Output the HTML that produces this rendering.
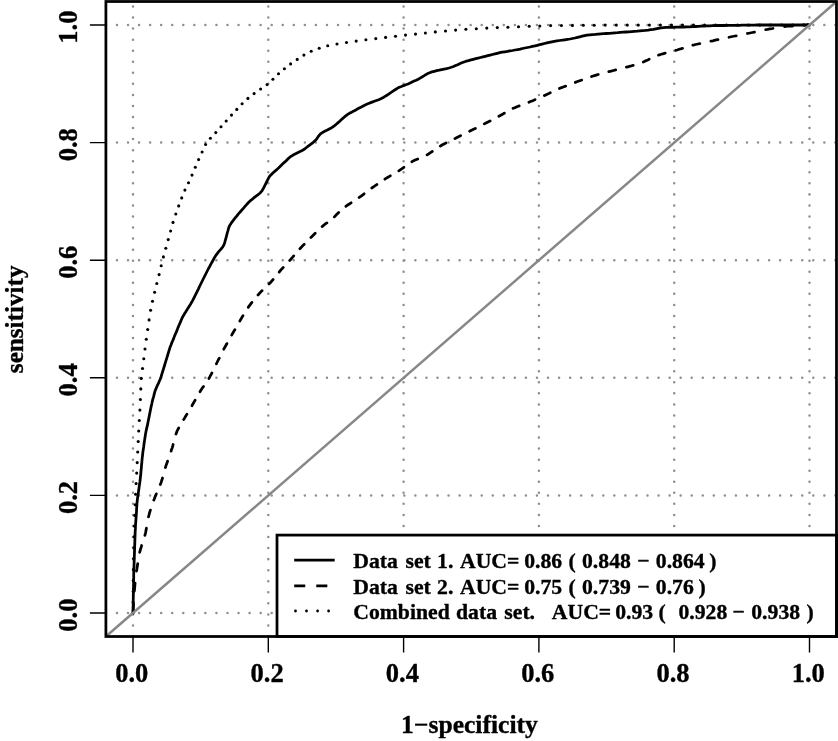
<!DOCTYPE html>
<html lang="en"><head><meta charset="utf-8"><title>ROC curves</title>
<style>html,body{margin:0;padding:0;background:#fff}svg{display:block}</style></head>
<body>
<svg width="838" height="741" viewBox="0 0 838 741">
<rect width="838" height="741" fill="#fff"/>
<path d="M133 636.5V1.5M268.3 636.5V1.5M403.6 636.5V1.5M538.9 636.5V1.5M674.2 636.5V1.5M809.5 636.5V1.5M105.9 613H836.6M105.9 495.4H836.6M105.9 377.8H836.6M105.9 260.2H836.6M105.9 142.6H836.6M105.9 25H836.6" fill="none" stroke="#8f8f8f" stroke-width="2.5" stroke-linecap="round" stroke-dasharray="0.01 11.043"/>
<path d="M133 613 L133.1 610.1 L133.1 607.1 L133.2 604.2 L133.2 601.2 L133.3 598.3 L133.3 595.3 L133.4 592.4 L133.4 589.4 L133.5 586.5 L133.6 583.6 L133.6 580.6 L133.7 577.7 L133.7 574.7 L133.8 571.8 L133.9 568.9 L134 566 L134.1 563.1 L134.2 560.2 L134.3 557.3 L134.4 554.4 L134.5 551.5 L134.6 548.6 L134.7 545.7 L134.8 542.8 L134.9 539.9 L135 537 L135.1 534.1 L135.2 531.2 L135.4 528.4 L135.5 525.5 L135.7 522.7 L135.9 519.9 L136.1 517.1 L136.3 514.3 L136.5 511.5 L136.6 508.6 L136.8 505.8 L137 503 L137.3 500.3 L137.6 497.6 L138 495 L138.4 492.4 L138.8 489.8 L139.1 487.1 L139.5 484.5 L139.9 481.9 L140.2 479.2 L140.5 476.5 L140.8 473.8 L141 471 L141.3 468.3 L141.5 465.5 L141.8 462.8 L142 460 L142.3 457.3 L142.6 454.6 L142.9 451.9 L143.3 449.3 L143.7 446.7 L144 444 L144.4 441.4 L144.8 438.8 L145.2 436.2 L145.6 433.6 L146.1 431.1 L146.6 428.6 L147.2 426.2 L147.7 423.7 L148.2 421.2 L148.7 418.7 L149.2 416.2 L149.7 413.7 L150.2 411.2 L150.7 408.7 L151.2 406.2 L151.8 403.8 L152.3 401.3 L152.9 398.9 L153.6 396.6 L154.2 394.2 L154.8 391.8 L155.6 389.6 L156.5 387.5 L157.4 385.4 L158.4 383.4 L159.3 381.3 L160.2 379.2 L161 377 L161.7 374.7 L162.4 372.4 L163.1 370.1 L163.8 367.8 L164.5 365.5 L165.2 363.2 L165.9 360.9 L166.6 358.6 L167.3 356.3 L168 354 L168.7 351.7 L169.4 349.4 L170.1 347.1 L171 345 L171.8 342.8 L172.7 340.7 L173.6 338.6 L174.4 336.4 L175.3 334.3 L176.2 332.2 L177.1 330.1 L177.9 327.9 L178.8 325.8 L179.7 323.7 L180.6 321.6 L181.5 319.5 L182.4 317.4 L183.5 315.5 L184.6 313.6 L185.8 311.8 L186.9 309.9 L188.1 308.1 L189.2 306.2 L190.4 304.4 L191.5 302.5 L192.6 300.6 L193.6 298.6 L194.6 296.6 L195.6 294.6 L196.6 292.6 L197.6 290.6 L198.6 288.6 L199.5 286.5 L200.5 284.5 L201.5 282.5 L202.5 280.5 L203.5 278.5 L204.5 276.5 L205.5 274.5 L206.5 272.5 L207.5 270.5 L208.5 268.5 L209.6 266.6 L210.6 264.6 L211.7 262.7 L212.8 260.8 L213.8 258.8 L214.9 256.9 L216.1 255.1 L217.4 253.4 L218.7 251.7 L220.1 250.1 L221.5 248.5 L222.8 246.8 L223.9 244.9 L224.7 242.7 L225.3 240.3 L226 238 L226.6 235.6 L227.2 233.2 L227.9 230.9 L228.5 228.5 L229.3 226.3 L230.4 224.4 L231.6 222.6 L232.9 220.9 L234.2 219.2 L235.5 217.5 L236.9 215.9 L238.2 214.2 L239.6 212.6 L241 211 L242.4 209.4 L243.8 207.8 L245.2 206.2 L246.6 204.6 L248 203 L249.5 201.5 L251.1 200.1 L252.8 198.8 L254.4 197.4 L256.1 196.1 L257.8 194.8 L259.5 193.5 L261 192 L262.3 190.3 L263.4 188.4 L264.4 186.4 L265.4 184.4 L266.4 182.4 L267.4 180.4 L268.4 178.4 L269.5 176.5 L270.9 174.9 L272.4 173.4 L274 172 L275.6 170.6 L277.2 169.2 L278.8 167.8 L280.3 166.3 L281.8 164.8 L283.3 163.3 L284.9 161.9 L286.4 160.4 L287.9 158.9 L289.5 157.5 L291.2 156.2 L293.1 155.1 L295.1 154.1 L297.1 153.1 L299.1 152.1 L301.1 151.1 L303 150 L304.8 148.8 L306.5 147.5 L308.2 146.2 L309.9 144.9 L311.6 143.6 L313.3 142.3 L314.9 140.9 L316.3 139.3 L317.6 137.6 L318.8 135.8 L320.2 134.2 L321.9 132.9 L323.8 131.8 L325.8 130.8 L327.8 129.8 L329.7 128.7 L331.7 127.7 L333.5 126.5 L335.2 125.2 L336.8 123.8 L338.4 122.4 L340 121 L341.5 119.5 L343.1 118.1 L344.7 116.7 L346.4 115.4 L348.1 114.1 L350 113 L352 112 L353.9 110.9 L355.9 109.9 L357.8 108.8 L359.8 107.8 L361.8 106.8 L363.7 105.7 L365.7 104.7 L367.8 103.8 L369.9 102.9 L372.1 102.1 L374.3 101.3 L376.5 100.5 L378.7 99.7 L380.8 98.8 L382.8 97.8 L384.6 96.6 L386.5 95.5 L388.3 94.3 L390.1 93.1 L391.9 91.9 L393.7 90.7 L395.5 89.5 L397.3 88.3 L399.3 87.3 L401.5 86.5 L403.6 85.6 L405.8 84.8 L408 84 L410.1 83.1 L412.1 82.1 L414.1 81.1 L416.2 80.2 L418.2 79.2 L420.1 78.1 L422 77 L423.9 75.9 L425.7 74.7 L427.6 73.6 L429.7 72.7 L431.9 71.9 L434.3 71.3 L436.7 70.7 L439.2 70.2 L441.6 69.6 L444.1 69.1 L446.6 68.6 L449 68 L451.3 67.3 L453.5 66.5 L455.6 65.6 L457.7 64.7 L459.7 63.7 L461.8 62.8 L464 62 L466.2 61.2 L468.6 60.6 L470.9 59.9 L473.3 59.3 L475.7 58.7 L478.1 58.1 L480.5 57.5 L482.9 56.9 L485.3 56.3 L487.7 55.7 L490.1 55.1 L492.5 54.5 L494.9 53.9 L497.3 53.3 L499.7 52.7 L502.2 52.2 L504.8 51.8 L507.4 51.4 L509.9 50.9 L512.5 50.5 L515 50 L517.6 49.6 L520.1 49.1 L522.5 48.5 L525 48 L527.5 47.5 L530 47 L532.4 46.4 L534.9 45.9 L537.3 45.3 L539.7 44.7 L542.1 44.1 L544.5 43.5 L546.9 42.9 L549.3 42.3 L551.8 41.8 L554.3 41.3 L556.9 40.9 L559.5 40.5 L562.2 40.2 L564.8 39.8 L567.4 39.4 L570 39 L572.5 38.5 L575 38 L577.4 37.4 L579.8 36.8 L582.2 36.2 L584.6 35.6 L587.1 35.1 L589.8 34.8 L592.6 34.6 L595.4 34.4 L598.1 34.1 L600.9 33.9 L603.7 33.7 L606.5 33.5 L609.3 33.3 L612.1 33.1 L614.9 32.9 L617.7 32.7 L620.4 32.4 L623.2 32.2 L626 32 L628.8 31.8 L631.6 31.6 L634.4 31.4 L637.2 31.2 L639.9 30.9 L642.6 30.6 L645.4 30.4 L648.1 30.1 L650.7 29.7 L653.3 29.3 L655.8 28.8 L658.3 28.3 L660.9 27.9 L663.6 27.6 L666.4 27.4 L669.4 27.4 L672.3 27.3 L675.2 27.2 L678.2 27.2 L681.1 27.1 L684 27 L686.9 26.9 L689.8 26.8 L692.6 26.6 L695.5 26.5 L698.4 26.4 L701.2 26.2 L704.1 26.1 L706.9 25.9 L709.8 25.8 L712.7 25.7 L715.6 25.6 L718.5 25.5 L721.5 25.5 L724.5 25.5 L727.4 25.4 L730.4 25.4 L733.3 25.3 L736.3 25.3 L739.3 25.3 L742.2 25.2 L745.2 25.2 L748.2 25.2 L751.1 25.1 L754.1 25.1 L757 25 L760 25 L763 25 L766 25 L769 25 L772 25 L775 25 L778 25 L781 25 L784 25 L787 25 L790 25 L793 25 L796 25 L799 25 L802 25 L805 25 L807.7 24.7 L809.5 25" fill="none" stroke="#000" stroke-width="2.76" stroke-linejoin="round" stroke-linecap="round"/>
<path d="M133.1 611.9 L133.2 610.2 L133.3 607.3 L133.5 604.5 L133.5 603.7M134.4 591.1 L134.4 590.4 L134.7 587.7 L134.9 584.9 L135.1 583.1M136.5 571.1 L136.9 568.9 L137.3 566.3 L137.7 563.7 L137.7 563.7M139.7 552.3 L140 551 L140.7 548.7 L141.4 546.4 L141.6 545.5M144.9 535.4 L145 535 L145.6 532.6 L146.1 530.1 L146.4 528.2M148.5 516.9 L149 515 L149.6 512.6 L150.3 510.3 L150.4 510.1M153.8 500.1 L154.2 499.2 L155 497 L155.9 494.9 L156.3 493.9M160.3 484.5 L160.4 484.4 L161.2 482.2 L161.9 479.9 L162.5 478M165.4 467.5 L165.9 465.9 L166.7 463.7 L167.5 461.5 L167.6 461.1M171.1 451.1 L171.3 450.3 L172.1 448.1 L172.8 445.8 L173.1 444.5M176 434 L176.8 431.8 L177.7 429.7 L178.7 428M183.7 419.5 L184.4 418.4 L185.5 416.5 L186.6 414.6 L186.9 414.1M192 405.7 L192.2 405.2 L193.3 403.3 L194.4 401.4 L195.1 400.2M200 391.7 L201 390 L202.2 388.2 L203.5 386.5M208.9 378.5 L209.5 377.5 L210.5 375.5 L211.6 373.6 L211.9 372.9M216.4 363.9 L216.5 363.5 L217.5 361.5 L218.5 359.5 L219.3 358.1M223.8 349.2 L224.6 347.6 L225.7 345.7 L226.8 343.8 L226.9 343.6M231.7 335.1 L232.2 334.2 L233.3 332.3 L234.4 330.4 L234.9 329.6M239.8 321.1 L239.9 320.9 L241 319 L242.1 317.1 L243 315.6M248.2 307.3 L249.1 306.1 L250.4 304.4 L251.7 302.7 L251.9 302.4M258 295 L258.5 294.5 L259.9 292.9 L261.3 291.3 L262.1 290.6M269 284 L270.5 282.5 L271.9 280.9 L273.1 279.5M279.2 272.1 L280 271 L281.4 269.4 L282.8 267.8 L283.2 267.4M289.7 260.5 L290.1 260.1 L291.5 258.5 L292.9 256.9 L293.7 255.9M299.9 248.7 L301.3 247.3 L302.7 245.7 L304.2 244.3M310.9 237.5 L311.7 236.7 L313.2 235.2 L314.7 233.7 L315.2 233.2M322.1 226.6 L322.4 226.4 L324 225 L325.7 223.7 L326.9 222.9M334.4 216.9 L335.6 215.6 L337.1 214.1 L338.6 212.6 L338.7 212.5M345.9 206.3 L346.7 205.7 L348.5 204.5 L350.3 203.3 L351.1 202.8M359.1 197.5 L359.3 197.3 L361.1 196.1 L362.8 194.8 L364.1 193.8M371.8 188 L373.1 187.1 L374.9 185.9 L376.7 184.7 L376.9 184.5M384.9 179.1 L385.6 178.6 L387.5 177.5 L389.4 176.4 L390.3 175.8M398.8 170.9 L398.8 170.8 L400.6 169.6 L402.4 168.4 L403.9 167.3M411.8 161.7 L413.1 161.1 L415.1 160.1 L417.2 159.2 L417.7 159M427 154.9 L427.6 154.6 L429.4 153.4 L431.2 152.2 L432.3 151.5M440.3 146.1 L442 145 L444 144 L445.9 143M454.9 138.6 L456 138 L458 137 L460 136 L460.6 135.7M469.6 131.2 L470 131 L472 130 L474 129 L475.4 128.4M484.3 123.9 L486 123 L488 122 L490 121 L490.1 120.9M498.9 116.3 L499.8 115.8 L501.7 114.7 L503.6 113.6 L504.4 113.2M513 108.4 L513.3 108.3 L515.4 107.4 L517.5 106.5 L519.2 105.9M528.9 102.2 L530.5 101.5 L532.7 100.7 L534.8 99.8 L535 99.6M544.4 95.6 L545.2 95.2 L547.2 94.2 L549.3 93.3 L550.3 92.8M559.4 88.5 L559.5 88.5 L561.6 87.6 L563.8 86.8 L565.6 86.1M575.3 82.4 L576.8 81.8 L579 81 L581.2 80.2 L581.7 80.1M591.6 76.6 L592.3 76.3 L594.6 75.6 L596.9 74.9 L598.2 74.5M608.8 71.6 L611.1 71.1 L613.5 70.5 L615.7 69.9M626.4 67.2 L627.8 66.8 L630.2 66.2 L632.5 65.5 L633.2 65.3M643.3 62 L643.8 61.8 L645.8 60.8 L647.9 59.9 L649.2 59.2M658.5 55.1 L660.5 54.5 L662.8 53.8 L665.2 53.2 L665.2 53.2M675.8 50.3 L677 50 L679.3 49.3 L681.6 48.6 L682.5 48.3M692.8 45.2 L693.2 45.2 L695.5 44.5 L698 44 L699.8 43.6M710.9 41.2 L712.8 40.8 L715.2 40.2 L717.7 39.7 L718 39.6M729 37.3 L730 37 L732.5 36.5 L735 36 L736.2 35.8M747.4 33.5 L747.5 33.5 L750 33 L752.5 32.5 L754.5 32.1M765.7 29.7 L767.4 29.4 L769.9 28.9 L772.5 28.5 L773 28.4M784.6 26.6 L785.5 26.5 L788.2 26.2 L791 26 L792.6 26M805.2 25.1 L807.8 24.8 L809.5 25" fill="none" stroke="#000" stroke-width="2.76" stroke-linejoin="round" stroke-linecap="round"/>
<g fill="#000"><circle cx="133" cy="613" r="1.55"/><circle cx="133.1" cy="602.1" r="1.55"/><circle cx="133.3" cy="591.2" r="1.55"/><circle cx="133.4" cy="580.3" r="1.55"/><circle cx="133.5" cy="569.4" r="1.55"/><circle cx="133.7" cy="558.5" r="1.55"/><circle cx="133.9" cy="547.6" r="1.55"/><circle cx="134.1" cy="536.8" r="1.55"/><circle cx="134.4" cy="526" r="1.55"/><circle cx="134.8" cy="515.4" r="1.55"/><circle cx="135.2" cy="504.8" r="1.55"/><circle cx="135.6" cy="494.2" r="1.55"/><circle cx="136.1" cy="483.6" r="1.55"/><circle cx="136.7" cy="473.1" r="1.55"/><circle cx="137.2" cy="462.6" r="1.55"/><circle cx="137.7" cy="452" r="1.55"/><circle cx="138.2" cy="441.5" r="1.55"/><circle cx="138.7" cy="431" r="1.55"/><circle cx="139.3" cy="420.5" r="1.55"/><circle cx="139.9" cy="410.1" r="1.55"/><circle cx="140.4" cy="399.5" r="1.55"/><circle cx="140.8" cy="388.9" r="1.55"/><circle cx="141.3" cy="378.4" r="1.55"/><circle cx="142.5" cy="368.5" r="1.55"/><circle cx="143.8" cy="358.7" r="1.55"/><circle cx="145" cy="349" r="1.55"/><circle cx="146.3" cy="339.2" r="1.55"/><circle cx="147.7" cy="329.5" r="1.55"/><circle cx="149.1" cy="319.9" r="1.55"/><circle cx="150.6" cy="310.3" r="1.55"/><circle cx="152.5" cy="301.3" r="1.55"/><circle cx="154.6" cy="292.3" r="1.55"/><circle cx="156.8" cy="283.5" r="1.55"/><circle cx="159.1" cy="274.6" r="1.55"/><circle cx="161.2" cy="265.7" r="1.55"/><circle cx="163.4" cy="256.9" r="1.55"/><circle cx="165.8" cy="248.3" r="1.55"/><circle cx="168.2" cy="239.6" r="1.55"/><circle cx="170.6" cy="231" r="1.55"/><circle cx="173" cy="222.4" r="1.55"/><circle cx="175.8" cy="214" r="1.55"/><circle cx="178.7" cy="205.9" r="1.55"/><circle cx="181.7" cy="197.9" r="1.55"/><circle cx="184.9" cy="190.1" r="1.55"/><circle cx="188.5" cy="182.7" r="1.55"/><circle cx="192" cy="175.1" r="1.55"/><circle cx="195.3" cy="167.3" r="1.55"/><circle cx="198.6" cy="159.6" r="1.55"/><circle cx="202.1" cy="152" r="1.55"/><circle cx="205.6" cy="144.5" r="1.55"/><circle cx="210.4" cy="138.2" r="1.55"/><circle cx="215.8" cy="132.6" r="1.55"/><circle cx="221" cy="126.8" r="1.55"/><circle cx="226.2" cy="121" r="1.55"/><circle cx="231.5" cy="115.1" r="1.55"/><circle cx="236.8" cy="109.4" r="1.55"/><circle cx="242.1" cy="103.7" r="1.55"/><circle cx="247.9" cy="98.4" r="1.55"/><circle cx="254.1" cy="93.6" r="1.55"/><circle cx="260.6" cy="89" r="1.55"/><circle cx="267.1" cy="84.6" r="1.55"/><circle cx="272.9" cy="79.3" r="1.55"/><circle cx="278.5" cy="73.8" r="1.55"/><circle cx="284.4" cy="68.7" r="1.55"/><circle cx="290.6" cy="63.9" r="1.55"/><circle cx="297.2" cy="59.4" r="1.55"/><circle cx="303.9" cy="55.1" r="1.55"/><circle cx="311.2" cy="51.3" r="1.55"/><circle cx="319.2" cy="48.2" r="1.55"/><circle cx="327.7" cy="45.7" r="1.55"/><circle cx="337" cy="44" r="1.55"/><circle cx="346.5" cy="42.5" r="1.55"/><circle cx="356.2" cy="41.1" r="1.55"/><circle cx="365.9" cy="39.8" r="1.55"/><circle cx="375.8" cy="38.6" r="1.55"/><circle cx="385.6" cy="37.4" r="1.55"/><circle cx="395.5" cy="36.2" r="1.55"/><circle cx="405.5" cy="35.1" r="1.55"/><circle cx="415.5" cy="34.1" r="1.55"/><circle cx="425.4" cy="33" r="1.55"/><circle cx="435.3" cy="31.9" r="1.55"/><circle cx="445.5" cy="31" r="1.55"/><circle cx="455.6" cy="30.1" r="1.55"/><circle cx="465.9" cy="29.3" r="1.55"/><circle cx="476.3" cy="28.7" r="1.55"/><circle cx="486.8" cy="28.1" r="1.55"/><circle cx="497.3" cy="27.6" r="1.55"/><circle cx="507.9" cy="27.2" r="1.55"/><circle cx="518.5" cy="26.7" r="1.55"/><circle cx="529.2" cy="26.3" r="1.55"/><circle cx="539.8" cy="26" r="1.55"/><circle cx="550.6" cy="25.6" r="1.55"/><circle cx="561.4" cy="25.5" r="1.55"/><circle cx="572.4" cy="25.4" r="1.55"/><circle cx="583.3" cy="25.3" r="1.55"/><circle cx="594.2" cy="25.2" r="1.55"/><circle cx="605.2" cy="25.1" r="1.55"/><circle cx="616.3" cy="25.1" r="1.55"/><circle cx="627.3" cy="25.1" r="1.55"/><circle cx="638.3" cy="25.1" r="1.55"/><circle cx="649.4" cy="25.1" r="1.55"/><circle cx="660.4" cy="25.1" r="1.55"/><circle cx="671.5" cy="25.1" r="1.55"/><circle cx="682.5" cy="25.1" r="1.55"/><circle cx="693.5" cy="25.1" r="1.55"/><circle cx="704.6" cy="25.1" r="1.55"/><circle cx="715.6" cy="25" r="1.55"/><circle cx="726.6" cy="25" r="1.55"/><circle cx="737.7" cy="25" r="1.55"/><circle cx="748.7" cy="25" r="1.55"/><circle cx="759.8" cy="25" r="1.55"/><circle cx="770.8" cy="25" r="1.55"/><circle cx="781.8" cy="25" r="1.55"/><circle cx="792.9" cy="25" r="1.55"/><circle cx="803.8" cy="24.9" r="1.55"/></g>
<path d="M105.9 636.5L836.6 1.5" stroke="#878787" stroke-width="2.5" fill="none"/>
<rect x="277" y="535.1" width="559.6" height="101.4" fill="#fff" stroke="#000" stroke-width="2.76"/>
<path d="M294.2 560.1H334.7" stroke="#000" stroke-width="2.76"/>
<path d="M294.2 585.9H334.7" stroke="#000" stroke-width="2.76" stroke-dasharray="11.043 11.043"/>
<g fill="#000"><circle cx="295.5" cy="611" r="1.4"/><circle cx="306.5" cy="611" r="1.4"/><circle cx="317.6" cy="611" r="1.4"/><circle cx="328.6" cy="611" r="1.4"/></g>
<rect x="105.9" y="1.5" width="730.6" height="635" fill="none" stroke="#000" stroke-width="2.76"/>
<path d="M133 636.5v16M268.3 636.5v16M403.6 636.5v16M538.9 636.5v16M674.2 636.5v16M809.5 636.5v16M105.9 613h-16M105.9 495.4h-16M105.9 377.8h-16M105.9 260.2h-16M105.9 142.6h-16M105.9 25h-16" stroke="#000" stroke-width="1.4" fill="none"/>
<g font-family="'Liberation Serif', serif" font-weight="bold" fill="#000" stroke="#000" stroke-width="0.35" stroke-linejoin="round">
<g font-size="26.5" text-anchor="middle">
<text x="131.8" y="682">0.0</text>
<text x="267.1" y="682">0.2</text>
<text x="402.4" y="682">0.4</text>
<text x="537.7" y="682">0.6</text>
<text x="673" y="682">0.8</text>
<text x="808.3" y="682">1.0</text>
<text transform="translate(76.8 615.1) rotate(-90)">0.0</text>
<text transform="translate(76.8 497.5) rotate(-90)">0.2</text>
<text transform="translate(76.8 379.9) rotate(-90)">0.4</text>
<text transform="translate(76.8 262.3) rotate(-90)">0.6</text>
<text transform="translate(76.8 144.7) rotate(-90)">0.8</text>
<text transform="translate(76.8 27.1) rotate(-90)">1.0</text>
</g>
<g font-size="25.6" text-anchor="middle">
<text x="469.5" y="732.8">1−specificity</text>
<text transform="translate(22.8 319.3) rotate(-90)" font-size="25.2">sensitivity</text>
</g>
<g font-size="21.7" word-spacing="0.9">
<text x="353.3" y="567.9">Data <tspan dx="1.3">set</tspan> 1. <tspan dx="1.5">AUC=</tspan> <tspan dx="-1.5">0.86</tspan> ( 0.848 − 0.864 <tspan dx="-1.6">)</tspan></text>
<text x="353.3" y="593.5">Data <tspan dx="1.3">set</tspan> 2. <tspan dx="1.5">AUC=</tspan> <tspan dx="-1.5">0.75</tspan> ( 0.739 − 0.76 <tspan dx="-1.6">)</tspan></text>
<text x="353.3" y="618.8">Combined data <tspan dx="1">set.</tspan>   <tspan dx="-1">AUC=</tspan> <tspan dx="-2.3">0.93</tspan> <tspan dx="-0.9">(</tspan>  0.928 <tspan dx="-1">−</tspan> 0.938 )</text>
</g></g>
</svg>
</body></html>
